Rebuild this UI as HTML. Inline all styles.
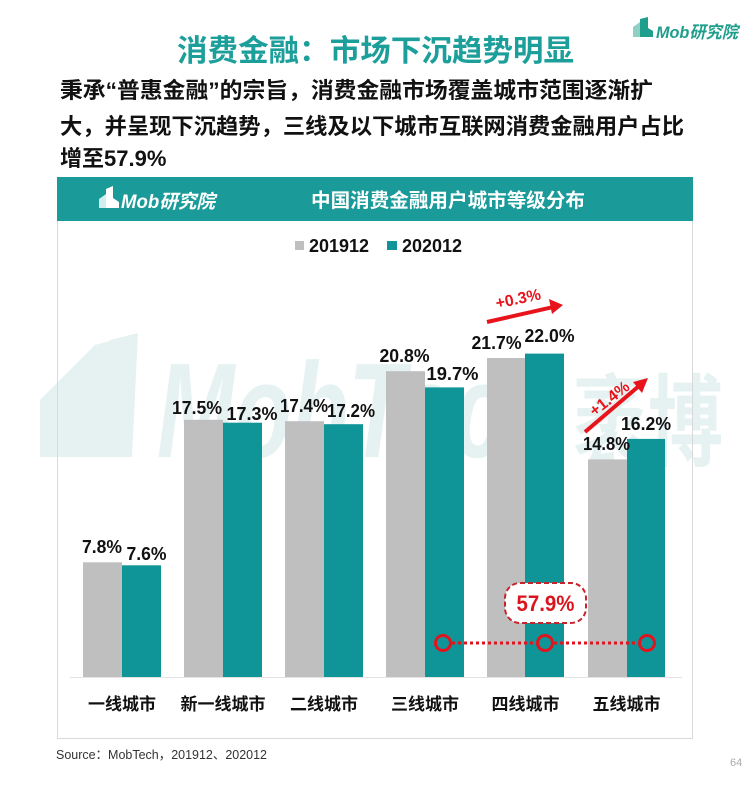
<!DOCTYPE html>
<html>
<head>
<meta charset="utf-8">
<style>
  html, body { margin:0; padding:0; background:#fff; }
  body { width:750px; height:789px; overflow:hidden; }
  svg { display:block; }
  .cjk { font-family: "Liberation Sans", "Noto Sans CJK SC", sans-serif; }
</style>
</head>
<body>
<svg width="750" height="789" viewBox="0 0 750 789" xmlns="http://www.w3.org/2000/svg" font-family="Liberation Sans, Noto Sans CJK SC, sans-serif">
  <rect x="0" y="0" width="750" height="789" fill="#ffffff"/>

  <!-- top-right logo -->
  <g>
    <polygon points="633,37 633,27 640,22 640,37" fill="#8fd0c4"/>
    <polygon points="640,37 640,19 648,17 648,37" fill="#1f9e8c"/>
    <polygon points="648,37 648,28 653,31 653,37" fill="#1f9e8c"/>
    <text x="656" y="38" font-size="17" font-weight="bold" font-style="italic" fill="#1f9e8c" textLength="82" lengthAdjust="spacingAndGlyphs">Mob研究院</text>
  </g>

  <!-- Title -->
  <text x="375.5" y="61" text-anchor="middle" font-size="30" font-weight="bold" fill="#1c9f9b" class="cjk" textLength="397" lengthAdjust="spacingAndGlyphs">消费金融：市场下沉趋势明显</text>

  <!-- Subtitle -->
  <g font-size="22" font-weight="bold" fill="#111">
    <text x="60" y="98" textLength="593" lengthAdjust="spacingAndGlyphs">秉承“普惠金融”的宗旨，消费金融市场覆盖城市范围逐渐扩</text>
    <text x="60" y="134" textLength="624" lengthAdjust="spacingAndGlyphs">大，并呈现下沉趋势，三线及以下城市互联网消费金融用户占比</text>
    <text x="60" y="166">增至57.9%</text>
  </g>

  <!-- Watermark -->
  <g fill="#e5f2f1">
    <polygon points="40,457 40,400 95,345 130,335 120,457"/>
    <polygon points="100,457 110,340 138,333 132,457"/>
    <text x="157" y="457" font-size="135" font-weight="bold" font-style="italic" textLength="405" lengthAdjust="spacingAndGlyphs">MobTech</text>
    <text x="573" y="458" font-size="100" font-weight="bold" textLength="150" lengthAdjust="spacingAndGlyphs">袤博</text>
  </g>

  <!-- Chart box -->
  <rect x="57.5" y="177.5" width="635" height="561" fill="none" stroke="#d9d9d9" stroke-width="1"/>
  <rect x="57" y="177" width="636" height="44" fill="#1a9a99"/>

  <!-- header logo -->
  <g>
    <polygon points="99,208 99,199 106,194 106,208" fill="#cfeeee"/>
    <polygon points="106,208 106,189 113,186 113,208" fill="#ffffff"/>
    <polygon points="113,208 113,198 119,202 119,208" fill="#ffffff"/>
    <text x="121" y="208" font-size="19" font-weight="bold" font-style="italic" fill="#ffffff" textLength="94" lengthAdjust="spacingAndGlyphs">Mob研究院</text>
  </g>
  <text x="448" y="207" text-anchor="middle" font-size="19.5" font-weight="bold" fill="#ffffff" textLength="274" lengthAdjust="spacingAndGlyphs">中国消费金融用户城市等级分布</text>

  <!-- Legend -->
  <rect x="295" y="241" width="9" height="9" fill="#bfbfbf"/>
  <text x="309" y="252" font-size="18" font-weight="bold" fill="#111" textLength="60" lengthAdjust="spacingAndGlyphs">201912</text>
  <rect x="387" y="241" width="10" height="9" fill="#0f9498"/>
  <text x="402" y="252" font-size="18" font-weight="bold" fill="#111" textLength="60" lengthAdjust="spacingAndGlyphs">202012</text>

  <!-- axis baseline -->
  <line x1="70" y1="677.5" x2="682" y2="677.5" stroke="#e3e3e3" stroke-width="1"/>

  <!-- Bars: baseline 677, 14.7 px per % -->
  <g>
    <rect x="83"  y="562.3" width="39" height="114.7" fill="#bfbfbf"/>
    <rect x="122" y="565.3" width="39" height="111.7" fill="#0f9498"/>

    <rect x="184" y="419.8" width="39" height="257.2" fill="#bfbfbf"/>
    <rect x="223" y="422.7" width="39" height="254.3" fill="#0f9498"/>

    <rect x="285" y="421.2" width="39" height="255.8" fill="#bfbfbf"/>
    <rect x="324" y="424.2" width="39" height="252.8" fill="#0f9498"/>

    <rect x="386" y="371.2" width="39" height="305.8" fill="#bfbfbf"/>
    <rect x="425" y="387.4" width="39" height="289.6" fill="#0f9498"/>

    <rect x="487" y="358.0" width="38" height="319.0" fill="#bfbfbf"/>
    <rect x="525" y="353.6" width="39" height="323.4" fill="#0f9498"/>

    <rect x="588" y="459.4" width="39" height="217.6" fill="#bfbfbf"/>
    <rect x="627" y="438.9" width="38" height="238.1" fill="#0f9498"/>
  </g>

  <!-- Value labels -->
  <g font-size="18" font-weight="bold" fill="#111" text-anchor="middle">
    <text x="102"   y="553" textLength="40" lengthAdjust="spacingAndGlyphs">7.8%</text>
    <text x="146.5" y="560" textLength="40" lengthAdjust="spacingAndGlyphs">7.6%</text>
    <text x="197"   y="414" textLength="50" lengthAdjust="spacingAndGlyphs">17.5%</text>
    <text x="252"   y="420" textLength="51" lengthAdjust="spacingAndGlyphs">17.3%</text>
    <text x="304"   y="412" textLength="48" lengthAdjust="spacingAndGlyphs">17.4%</text>
    <text x="351"   y="417" textLength="48" lengthAdjust="spacingAndGlyphs">17.2%</text>
    <text x="404.5" y="362" textLength="50" lengthAdjust="spacingAndGlyphs">20.8%</text>
    <text x="452.5" y="380" textLength="52" lengthAdjust="spacingAndGlyphs">19.7%</text>
    <text x="496.5" y="349" textLength="50" lengthAdjust="spacingAndGlyphs">21.7%</text>
    <text x="549.5" y="342" textLength="50" lengthAdjust="spacingAndGlyphs">22.0%</text>
    <text x="606.5" y="450" textLength="47" lengthAdjust="spacingAndGlyphs">14.8%</text>
    <text x="646"   y="430" textLength="50" lengthAdjust="spacingAndGlyphs">16.2%</text>
  </g>

  <!-- Arrows -->
  <g fill="#e8141c" stroke="#e8141c">
    <line x1="487" y1="322" x2="552" y2="307.3" stroke-width="4"/>
    <polygon points="563,305 549,299 552,314" stroke="none"/>
    <line x1="585" y1="432" x2="639" y2="386" stroke-width="4"/>
    <polygon points="648,378 633,382 642,393" stroke="none"/>
  </g>
  <text x="518" y="304" text-anchor="middle" font-size="16" font-weight="bold" fill="#e8141c" transform="rotate(-12 518 298)">+0.3%</text>
  <text x="609" y="404" text-anchor="middle" font-size="16" font-weight="bold" fill="#e8141c" transform="rotate(-38 609 398)">+1.4%</text>

  <!-- Red dotted line and circles -->
  <line x1="452" y1="643" x2="536" y2="643" stroke="#e0141e" stroke-width="3" stroke-dasharray="3,3"/>
  <line x1="554" y1="643" x2="638" y2="643" stroke="#e0141e" stroke-width="3" stroke-dasharray="3,3"/>
  <g fill="none" stroke="#e0141e" stroke-width="3">
    <circle cx="443" cy="643" r="7.5"/>
    <circle cx="545" cy="643" r="7.5"/>
    <circle cx="647" cy="643" r="7.5"/>
  </g>

  <!-- 57.9% callout -->
  <rect x="505" y="583" width="81" height="40" rx="15" ry="15" fill="#ffffff" stroke="#c8232b" stroke-width="2" stroke-dasharray="5,3"/>
  <text x="545.5" y="611" text-anchor="middle" font-size="22" font-weight="bold" fill="#d9161e" textLength="58" lengthAdjust="spacingAndGlyphs">57.9%</text>

  <!-- Category labels -->
  <g font-size="17" font-weight="bold" fill="#111" text-anchor="middle">
    <text x="122" y="710">一线城市</text>
    <text x="223" y="710">新一线城市</text>
    <text x="324" y="710">二线城市</text>
    <text x="425" y="710">三线城市</text>
    <text x="525.5" y="710">四线城市</text>
    <text x="626.5" y="710">五线城市</text>
  </g>

  <!-- Footer -->
  <text x="56" y="759" font-size="13" fill="#333" textLength="211" lengthAdjust="spacingAndGlyphs">Source：MobTech，201912、202012</text>
  <text x="730" y="766" font-size="11" fill="#aaaaaa">64</text>
</svg>
</body>
</html>
